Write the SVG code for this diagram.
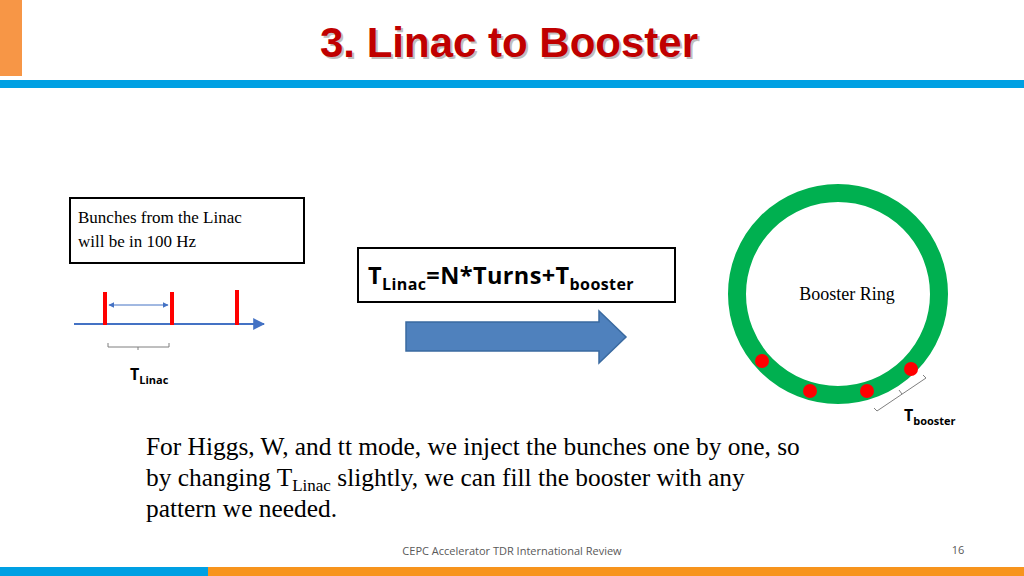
<svg xmlns="http://www.w3.org/2000/svg" width="1024" height="576" viewBox="0 0 1024 576">
<defs>
<style>
.serif{font-family:"Liberation Serif",serif;fill:#000}
.sans{font-family:"Open Sans","Liberation Sans",sans-serif;fill:#000}
.brk{fill:none;stroke:#7f7f7f;stroke-width:1}
</style>
<marker id="ah" viewBox="0 0 10 10" refX="9" refY="5" markerWidth="6" markerHeight="6" orient="auto-start-reverse"><path d="M0,0L10,5L0,10z" fill="#4472c4"/></marker>
</defs>
<rect width="1024" height="576" fill="#fff"/>
<rect x="0" y="0" width="22" height="76" fill="#f79646"/>
<rect x="0" y="80" width="1024" height="8" fill="#00a0e3"/>
<rect x="0" y="567" width="208" height="9" fill="#00a0e3"/>
<rect x="208" y="567" width="816" height="9" fill="#f7941d"/>
<text x="509" y="57" text-anchor="middle" font-family="Liberation Sans,Arial,sans-serif" font-weight="bold" font-size="42" fill="#808080" opacity="0.5" transform="translate(2,2)">3. Linac to Booster</text>
<text x="509" y="57" text-anchor="middle" font-family="Liberation Sans,Arial,sans-serif" font-weight="bold" font-size="42" fill="#c00000">3. Linac to Booster</text>

<g id="note">
<rect x="70" y="198" width="234" height="65" fill="#fff" stroke="#000" stroke-width="2"/>
<text class="serif" x="78" y="223" font-size="17">Bunches from the Linac</text>
<text class="serif" x="78" y="247" font-size="17">will be in 100 Hz</text>
</g>
<g id="formula">
<rect x="358" y="248" width="317" height="54" fill="#fff" stroke="#000" stroke-width="2"/>
<text class="sans" x="368" y="284" font-size="23.5" font-weight="bold" letter-spacing="0.4">T<tspan font-size="16" dy="6">Linac</tspan><tspan dy="-6">=N*Turns+T</tspan><tspan font-size="16" dy="6">booster</tspan></text>
</g>
<g id="bigarrow">
<path d="M406,322 H599 V311 L626,337 L599,363 V351 H406 Z" fill="#4f81bd" stroke="#3a6aa0" stroke-width="1.5"/>
</g>
<g id="timeline">
<line x1="74" y1="324" x2="264" y2="324" stroke="#4472c4" stroke-width="2" marker-end="url(#ah)"/>
<rect x="103" y="292" width="4" height="33" fill="#ff0000"/>
<rect x="170" y="292" width="4" height="33" fill="#ff0000"/>
<rect x="235" y="290" width="4" height="35" fill="#ff0000"/>
<line x1="109" y1="305" x2="168" y2="305" stroke="#4472c4" stroke-width="1" marker-start="url(#ah)" marker-end="url(#ah)"/>
<path class="brk" d="M108,343 V347 H169 V343 M138,347 V350"/>
<text class="sans" x="130" y="380" font-size="16" font-weight="bold">T<tspan font-size="11" dy="4">Linac</tspan></text>
</g>
<g id="ring">
<circle cx="838" cy="294" r="101" fill="none" stroke="#00b050" stroke-width="18"/>
<text class="serif" x="847" y="300" font-size="18" text-anchor="middle">Booster Ring</text>
<circle cx="762" cy="361" r="7" fill="#ff0000"/>
<circle cx="810" cy="391" r="7" fill="#ff0000"/>
<circle cx="867" cy="391" r="7" fill="#ff0000"/>
<circle cx="911" cy="369" r="7" fill="#ff0000"/>
<path class="brk" d="M874,408 L877,411 L926,378 L923,375 M902,394 L899,390"/>
<text class="sans" x="904" y="421" font-size="16" font-weight="bold">T<tspan font-size="11" dy="4">booster</tspan></text>
</g>
<g id="body">
<text class="serif" x="146" y="455" font-size="25.4">For Higgs, W, and tt mode, we inject the bunches one by one, so</text>
<text class="serif" x="146" y="486" font-size="25.4">by changing T<tspan font-size="17" dy="5">Linac</tspan><tspan dy="-5"> slightly, we can fill the booster with any</tspan></text>
<text class="serif" x="146" y="517" font-size="25.4">pattern we needed.</text>
</g>
<text class="sans" x="512" y="555" font-size="11" text-anchor="middle" style="fill:#595959">CEPC Accelerator TDR International Review</text>
<text class="sans" x="958" y="554" font-size="11" text-anchor="middle" style="fill:#595959">16</text>
</svg>
